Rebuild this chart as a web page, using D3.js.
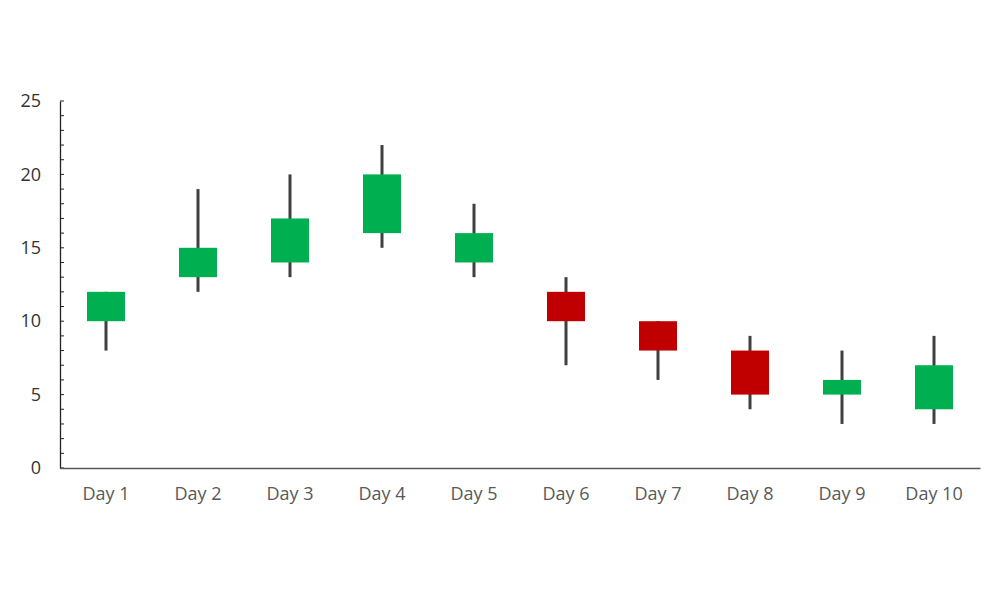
<!DOCTYPE html>
<html>
<head>
<meta charset="utf-8">
<script src="https://cdn.jsdelivr.net/npm/d3@7"></script>
<style>
  html, body { margin: 0; padding: 0; background: #fff; }
  svg { display: block; font-family: "Open Sans", "Noto Sans", sans-serif; }
</style>
</head>
<body>
<svg id="chart" width="1000" height="600"></svg>
<script>
const categories = ["Day 1","Day 2","Day 3","Day 4","Day 5","Day 6","Day 7","Day 8","Day 9","Day 10"];
const openVals  = [10, 13, 14, 16, 14, 12, 10, 8, 5, 4];
const closeVals = [12, 15, 17, 20, 16, 10, 8, 5, 6, 7];
const lowVals   = [8, 12, 13, 15, 13, 7, 6, 4, 3, 3];
const highVals  = [12, 19, 20, 22, 18, 13, 10, 9, 8, 9];
const yTicks = [0, 5, 10, 15, 20, 25];

const svg = d3.select("#chart");
const mLeft = 60, mRight = 980, mTop = 101, mBottom = 468;

const x = d3.scaleBand().domain(categories).range([mLeft, mRight]);
const y = d3.scaleLinear().domain([0, 25]).range([mBottom, mTop]);

const data = categories.map((c, i) => ({
  cat: c, open: openVals[i], close: closeVals[i], low: lowVals[i], high: highVals[i]
}));

// minor ticks (every unit, pointing inward)
svg.append("g").selectAll("line").data(d3.range(0, 26)).join("line")
  .attr("x1", mLeft).attr("x2", mLeft + 4)
  .attr("y1", d => y(d)).attr("y2", d => y(d))
  .attr("stroke", "#222").attr("stroke-width", 1);

// y axis
const yAxis = svg.append("g").attr("transform", `translate(${mLeft},0)`)
  .call(d3.axisLeft(y).tickValues(yTicks).tickSize(0).tickPadding(19));
yAxis.select(".domain").attr("stroke", "#222").attr("stroke-width", 1.3);
yAxis.selectAll("text").attr("font-size", 18).attr("fill", "#333")
  .attr("font-family", "'Open Sans', 'Noto Sans', sans-serif");

// x axis
const xAxis = svg.append("g").attr("transform", `translate(0,${mBottom})`)
  .call(d3.axisBottom(x).tickSize(0).tickPadding(19.5));
xAxis.select(".domain").attr("stroke", "#595959").attr("stroke-width", 1.5);
xAxis.selectAll("text").attr("font-size", 18).attr("fill", "#595959")
  .attr("font-family", "'Open Sans', 'Noto Sans', sans-serif");

const bw = 38;
// wicks
svg.append("g").selectAll("line").data(data).join("line")
  .attr("x1", d => x(d.cat) + x.bandwidth() / 2)
  .attr("x2", d => x(d.cat) + x.bandwidth() / 2)
  .attr("y1", d => y(d.high)).attr("y2", d => y(d.low))
  .attr("stroke", "#404040").attr("stroke-width", 3);

// bodies
svg.append("g").selectAll("rect").data(data).join("rect")
  .attr("x", d => x(d.cat) + x.bandwidth() / 2 - bw / 2)
  .attr("width", bw)
  .attr("y", d => y(Math.max(d.open, d.close)))
  .attr("height", d => Math.abs(y(d.open) - y(d.close)))
  .attr("fill", d => d.close >= d.open ? "#00B050" : "#C00000");
</script>
</body>
</html>
